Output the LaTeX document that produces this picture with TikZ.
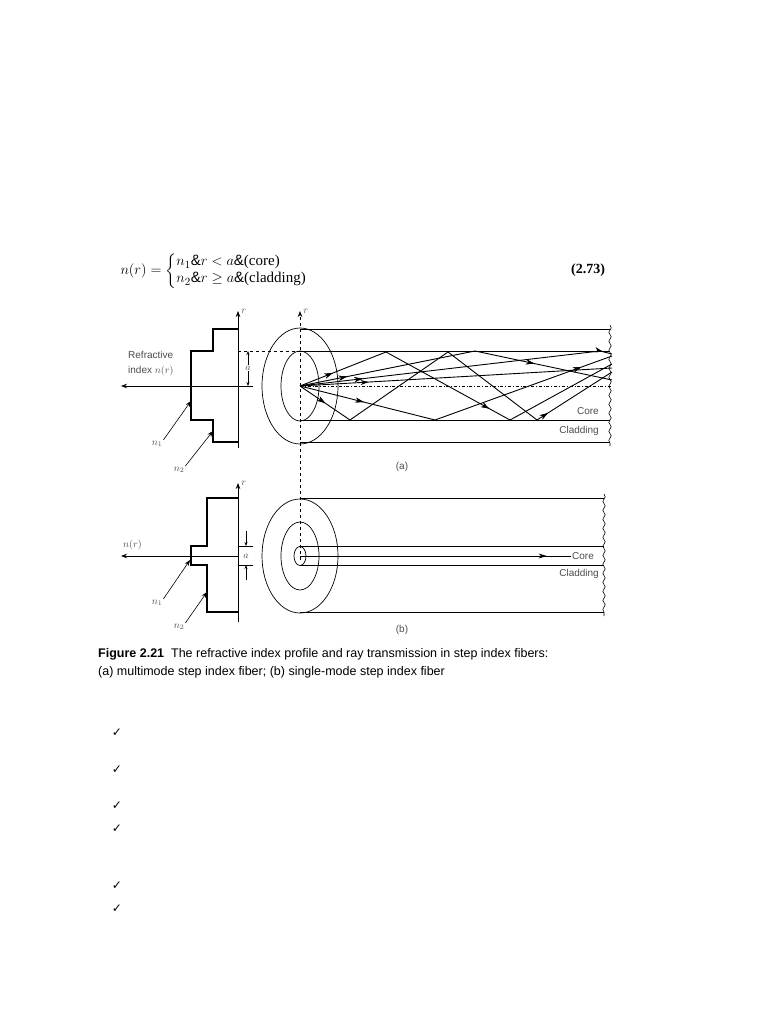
\documentclass[tikz,border=0pt]{standalone}
\usepackage{amsmath}
\usepackage{fontspec}
\setmainfont{Liberation Sans}
\newfontfamily\eqfont{Liberation Serif}
\newfontfamily\symfont{DejaVu Sans}
\usetikzlibrary{arrows.meta,positioning,decorations.markings,decorations.pathmorphing}

\begin{document}
\begin{tikzpicture}[x=1pt,y=-1pt,
    thin line/.style={line width=0.7pt},
    profile/.style={line width=1.1pt},
    ray/.style={line width=0.9pt},
    lbl/.style={font=\fontsize{10}{12}\selectfont,text=black!70,inner sep=1pt},
    pointer/.style={-{Stealth[length=6pt]},line width=0.6pt},
    mk/.style={postaction={decorate},decoration={markings,mark=at position #1 with {\arrow{Stealth[length=8pt,width=5pt]}}}},
    wavy/.style={decorate,decoration={snake,amplitude=1.2pt,segment length=9pt},line width=0.6pt}]
  \useasboundingbox (0,0) rectangle (768,1024);

  % equation
  \node[anchor=west,font=\eqfont\fontsize{15}{17}\selectfont,ampersand replacement=\&] (eq) at (117,271)
    {$n(r)=\left\{\begin{array}{@{}lll@{}}n_1 \& r<a \& \text{(core)}\\ n_2 \& r\geq a \& \text{(cladding)}\end{array}\right.$};
  \node[font=\eqfont\bfseries\fontsize{14}{16}\selectfont] (eqno) at (588,270) {(2.73)};

  % ---- (a) index profile
  \coordinate (pa0) at (238,448);
  \coordinate (pa1) at (238,311);
  \draw[thin line,-{Stealth[length=6pt]}] (pa0) -- (pa1) node[lbl,right=2pt,anchor=west] (ra) {$r$};
  \draw[profile] (238,329) -- (213,329) -- (213,351) -- (191,351) -- (191,420)
    -- (213,420) -- (213,442) -- (238,442);
  \coordinate (xa0) at (253,386);
  \coordinate (xa1) at (121,386);
  \draw[thin line,-{Stealth[length=6pt]}] (xa0) -- (xa1);
  \node[lbl,anchor=west] (refr) at (127,355) {Refractive};
  \node[lbl,anchor=west] (idxa) at (127,371) {index $n(r)$};
  \draw[dashed,thin line] (238,351) -- (300,351);
  \coordinate (da0) at (248,351);
  \coordinate (da1) at (248,386);
  \draw[thin line,{Stealth[length=4pt]}-{Stealth[length=4pt]}] (da0) -- (da1);
  \node[lbl,fill=white,inner sep=0.5pt] (aa) at (248,368) {$a$};
  \node[lbl] (n1a) at (157,444) {$n_1$};
  \node[lbl] (n2a) at (179,470) {$n_2$};
  \draw[pointer] (n1a.north east) -- (191,401);
  \draw[pointer] (n2a.north east) -- (213,431);

  % ---- (a) fibre
  \coordinate (ax0) at (300,560);
  \coordinate (ax1) at (300,311);
  \draw[dashed,thin line,-{Stealth[length=6pt]}] (ax0) -- (ax1) node[lbl,right=2pt,anchor=west] (rfa) {$r$};
  \draw[thin line] (300,386) ellipse (38 and 58);
  \draw[thin line] (300,386) ellipse (19 and 35);
  \foreach \y in {329,351,420,442}
    \draw[thin line] (300,\y) -- (610,\y);
  \draw[wavy] (610,325) -- (610,446);
  \draw[thin line,dash dot] (300,386) -- (612,386);
  \coordinate (o) at (300,386);
  \draw[ray,mk=0.1,mk=0.6] (o) -- (386,352) -- (510,420) -- (612,364);
  \draw[ray,mk=0.08,mk=0.8] (o) -- (350,420) -- (448,352) -- (537,420) -- (612,372);
  \draw[ray,mk=0.15,mk=0.75] (o) -- (475,351) -- (612,380);
  \draw[ray,mk=0.2,mk=0.9] (o) -- (435,420) -- (612,356);
  \draw[ray,mk=0.2,mk=0.97] (o) -- (600,351) -- (612,354);
  \draw[ray,mk=0.22] (o) -- (612,368);
  \node[lbl,anchor=east] (corea) at (600,411) {Core};
  \node[lbl,anchor=east] (clada) at (600,431) {Cladding};
  \node[lbl] (capa) at (402,467) {(a)};

  % ---- (b) index profile
  \coordinate (pb0) at (238,622);
  \coordinate (pb1) at (238,483);
  \draw[thin line,-{Stealth[length=6pt]}] (pb0) -- (pb1) node[lbl,right=2pt,anchor=west] (rb) {$r$};
  \draw[profile] (238,498) -- (207,498) -- (207,546) -- (191,546) -- (191,565)
    -- (207,565) -- (207,612) -- (238,612);
  \coordinate (xb0) at (238,556);
  \coordinate (xb1) at (121,556);
  \draw[thin line,-{Stealth[length=6pt]}] (xb0) -- (xb1);
  \node[lbl,anchor=west] (nrb) at (122,545) {$n(r)$};
  \draw[thin line] (238,546) -- (253,546) (238,565) -- (253,565);
  \coordinate (db0) at (246,531);
  \coordinate (db1) at (246,580);
  \draw[thin line,-{Stealth[length=4pt]}] (db0) -- (246,546);
  \draw[thin line,-{Stealth[length=4pt]}] (db1) -- (246,565);
  \node[lbl] (ab) at (246,556) {$a$};
  \node[lbl] (n1b) at (157,603) {$n_1$};
  \node[lbl] (n2b) at (179,627) {$n_2$};
  \draw[pointer] (n1b.north east) -- (190,560);
  \draw[pointer] (n2b.north east) -- (207,592);

  % ---- (b) fibre
  \draw[thin line] (300,556) ellipse (38 and 57);
  \draw[thin line] (300,556) ellipse (19 and 34);
  \draw[thin line] (300,556) ellipse (6 and 9.5);
  \foreach \y in {498,546,565,612}
    \draw[thin line] (300,\y) -- (604,\y);
  \draw[wavy] (604,494) -- (604,616);
  \coordinate (ob) at (300,556);
  \coordinate (eb) at (571,556);
  \draw[ray,mk=0.91] (ob) -- (eb);
  \node[lbl,anchor=west,fill=white] (coreb) at (571,556) {Core};
  \node[lbl,anchor=east] (cladb) at (600,574) {Cladding};
  \node[lbl] (capb) at (402,630) {(b)};

  % caption
  \node[anchor=north west,align=left,font=\fontsize{12.5}{18}\selectfont,inner sep=0pt] (cap) at (98,648)
    {\textbf{Figure 2.21}\ \ The refractive index profile and ray transmission in step index fibers:\\
     (a) multimode step index fiber; (b) single-mode step index fiber};

  % check marks
  \foreach \y [count=\i] in {733,770,806,829,886,909}
    \node[font=\symfont\fontsize{12}{12}\selectfont] (chk\i) at (117,\y) {✓};
\end{tikzpicture}
\end{document}
